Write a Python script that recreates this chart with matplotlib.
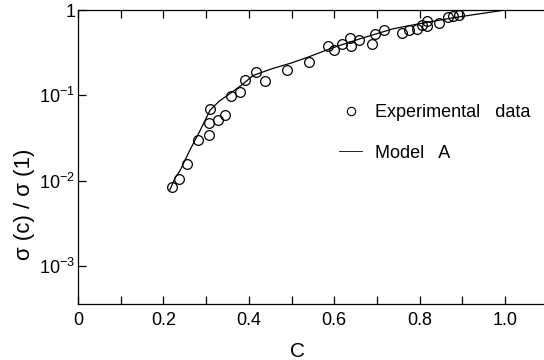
import matplotlib
matplotlib.use("Agg")
import matplotlib.pyplot as plt
from matplotlib.lines import Line2D

plt.rcParams['font.family'] = ['Liberation Sans', 'DejaVu Sans']
plt.rcParams['mathtext.default'] = 'regular'

# Experimental data
exp_c = [0.220, 0.236, 0.256, 0.281, 0.307, 0.307, 0.309, 0.327, 0.345, 0.358,
         0.379, 0.390, 0.416, 0.438, 0.489, 0.540, 0.586, 0.600, 0.617, 0.637,
         0.639, 0.658, 0.689, 0.696, 0.717, 0.758, 0.775, 0.793, 0.806, 0.817,
         0.817, 0.846, 0.867, 0.879, 0.891]
exp_s = [0.0084, 0.0105, 0.0155, 0.030, 0.034, 0.048, 0.069, 0.051, 0.059, 0.099,
         0.109, 0.150, 0.187, 0.147, 0.200, 0.245, 0.377, 0.336, 0.395, 0.473,
         0.374, 0.440, 0.402, 0.517, 0.576, 0.541, 0.576, 0.603, 0.676, 0.641,
         0.753, 0.701, 0.824, 0.862, 0.879]

# Model A curve
model_c = [0.215, 0.227, 0.239, 0.262, 0.286, 0.309, 0.330, 0.356, 0.383, 0.410,
           0.454, 0.500, 0.539, 0.590, 0.660, 0.738, 0.810, 0.887, 1.000]
model_s = [0.0078, 0.0107, 0.0132, 0.0229, 0.0389, 0.0668, 0.0851, 0.105, 0.132, 0.171,
           0.205, 0.240, 0.281, 0.352, 0.460, 0.603, 0.708, 0.824, 1.000]

x_ticks = [0, 0.2, 0.4, 0.6, 0.8, 1.0]
x_ticklabels = ["0", "0.2", "0.4", "0.6", "0.8", "1.0"]
x_minor = [0.1, 0.3, 0.5, 0.7, 0.9]
y_ticks = [1e-3, 1e-2, 1e-1, 1]
y_ticklabels = ["10$^{-3}$", "10$^{-2}$", "10$^{-1}$", "1"]

fig = plt.figure(figsize=(5.44, 3.60), dpi=100)
ax = fig.add_axes([0.1434, 0.1556, 1 - 0.1434, 0.8166])

ax.plot(model_c, model_s, color='black', lw=0.9, label='Model  A')
ax.plot(exp_c, exp_s, linestyle='none', marker='o', markersize=7,
        markerfacecolor='none', markeredgecolor='black', markeredgewidth=0.9,
        label='Experimental  data')

ax.set_yscale('log')
ax.set_xlim(0, 1.091)
ax.set_ylim(3.6e-4, 1.0)

ax.set_xticks(x_ticks)
ax.set_xticklabels(x_ticklabels)
ax.set_xticks(x_minor, minor=True)
ax.set_yticks(y_ticks)
ax.set_yticklabels(y_ticklabels)
ax.yaxis.set_minor_locator(matplotlib.ticker.NullLocator())

ax.tick_params(axis='x', which='both', direction='in', length=6, width=0.9,
               top=True, bottom=True, labelsize=13, pad=6)
ax.tick_params(axis='y', which='both', direction='in', length=6, width=0.9,
               left=True, right=False, labelsize=13, pad=2)

ax.spines['right'].set_visible(False)
for s in ['left', 'bottom', 'top']:
    ax.spines[s].set_linewidth(0.9)

ax.set_xlabel("C", fontsize=15)
ax.xaxis.set_label_coords(0.472, -0.13)
ax.set_ylabel("σ (c) / σ (1)", fontsize=16)
ax.yaxis.set_label_coords(-0.092, 0.34)

handles = [
    Line2D([], [], linestyle='none', marker='o', markersize=6,
           markerfacecolor='none', markeredgecolor='black', markeredgewidth=0.8),
    Line2D([], [], color='black', lw=0.6),
]
leg = ax.legend(handles, ["Experimental   data", "Model   A"], loc='upper left',
                bbox_to_anchor=(0.525, 0.735), frameon=False, fontsize=13,
                handlelength=1.3, handletextpad=0.7, labelspacing=1.3)

fig.savefig("out.png", dpi=100)
